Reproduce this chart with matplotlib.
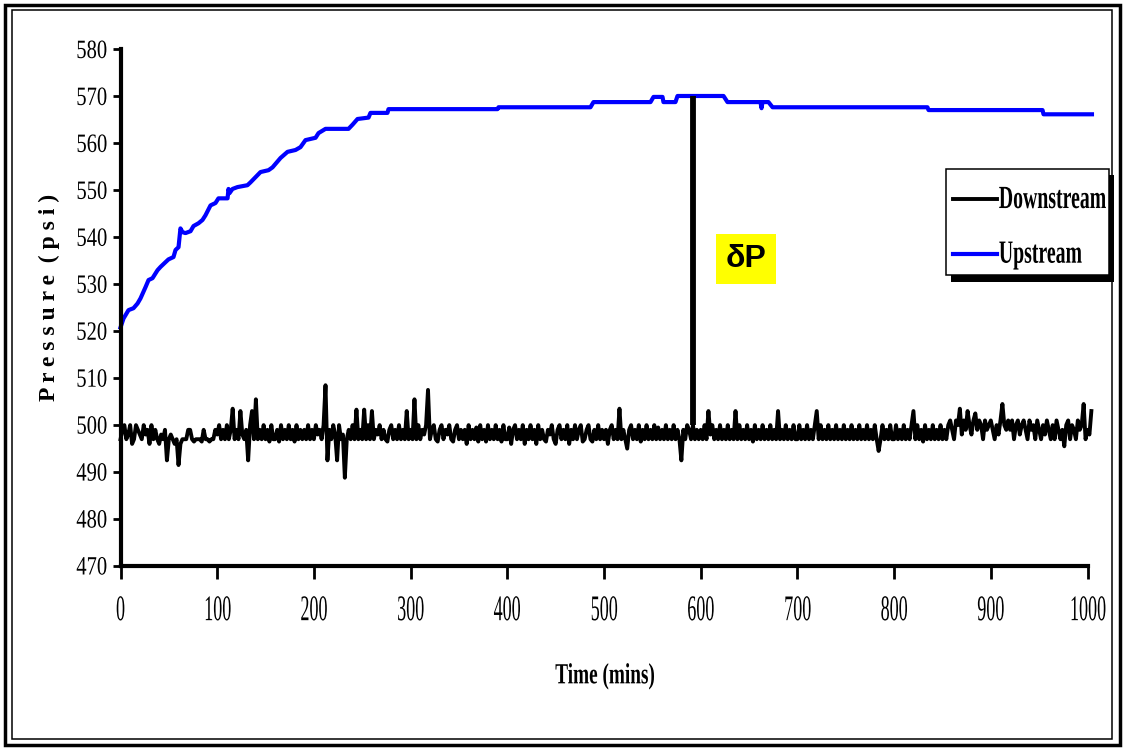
import matplotlib
matplotlib.use("Agg")
import matplotlib.pyplot as plt
import matplotlib.patheffects as pe
from matplotlib.patches import Rectangle
from matplotlib.transforms import Affine2D
import numpy as np

W, H = 1124, 748

# upstream pressure (time in mins, psi)
up_time = [0, 3.1, 8.3, 13.4, 17.6, 20.7, 25.9, 29.0, 33.1, 38.3, 41.4, 46.5, 49.6,
           54.8, 56.9, 60.0, 62.0, 64.1, 67.2, 72.4, 75.5, 80.7, 84.8, 87.9, 93.1,
           98.2, 101.3, 110.7, 111.7, 112.7, 115.8, 121.0, 131.3, 134.4, 144.8, 153.1,
           157.2, 165.5, 172.7, 181.0, 186.1, 191.3, 201.7, 204.8, 212.0, 235.8, 240.0,
           245.1, 256.5, 258.5, 276.1, 277.1, 389.9, 390.9, 486.0, 489.1, 548.1, 551.2,
           560.5, 561.5, 573.9, 576.0, 623.6, 627.7, 661.8, 662.9, 663.9, 670.1, 674.3,
           834.5, 835.6, 953.5, 954.5, 1004.6]
up_psi = [520.8, 522.7, 524.5, 524.9, 525.9, 527.0, 529.4, 530.9, 531.3, 533.0, 533.7,
          534.7, 535.3, 535.8, 537.3, 537.9, 541.9, 541.1, 540.9, 541.3, 542.4, 543.0,
          543.7, 544.7, 546.8, 547.3, 548.3, 548.3, 550.3, 549.4, 550.3, 550.7, 551.1,
          551.7, 553.9, 554.3, 554.9, 556.9, 558.2, 558.6, 559.2, 560.7, 561.2, 562.2,
          563.1, 563.1, 564.0, 565.2, 565.5, 566.5, 566.5, 567.3, 567.3, 567.7, 567.7,
          568.8, 568.8, 569.9, 569.9, 568.8, 568.8, 570.1, 570.1, 568.8, 568.8, 567.5,
          568.8, 568.8, 567.7, 567.7, 567.1, 567.1, 566.2, 566.2]

# downstream pressure, one reading every 2 mins (one row = 100 mins)
down_time = np.arange(0, 1005, 2)
down_psi = [
    497, 499, 500, 497, 498, 500, 496, 497, 500, 499, 498, 497, 500, 498, 499, 496, 500, 497, 499, 497,
    496, 498, 497, 499, 492.5, 497, 498, 497, 496, 497, 491.5, 496, 497, 497, 497, 499, 499, 497, 496.5, 497,
    497, 497, 496.5, 499, 497, 497, 496.5, 497, 497, 499,
    498, 500, 497, 499, 497, 500, 497, 499, 503.5, 497, 499, 497, 503, 498, 497, 499, 492.5, 500, 503, 497,
    505.5, 497, 499, 497, 500, 497, 499, 496.5, 500, 497, 497, 499, 496.5, 500, 497, 499, 497, 500, 497, 499,
    496.5, 500, 497, 499, 497, 499, 497, 500, 497, 499,
    497, 500, 498, 499, 497, 500, 508.5, 492.5, 499, 497, 500, 498, 492.5, 500, 497, 498, 488.8, 497, 499, 497,
    500, 497, 503.3, 497, 499, 497, 503.3, 497, 500, 497, 503, 497, 499, 498, 500, 497, 499, 497, 496.5, 499,
    500, 497, 499, 497, 500, 497, 499, 497, 503, 497,
    499, 497, 505.5, 497, 500, 497, 499, 498, 500, 507.5, 497, 499, 500, 497, 496.5, 499, 500, 497, 499, 498,
    500, 497, 496.5, 499, 500, 497, 499, 497, 499, 496, 500, 497, 499, 497, 499.5, 496.5, 500, 497, 499, 496.5,
    500, 497, 499, 497, 500, 497, 499, 496.5, 500, 497,
    497, 499.5, 496, 499, 500, 497, 499, 497, 500, 496, 499, 497, 500, 497, 499, 496, 500, 497, 499, 497,
    496.5, 499, 498, 500, 497, 496, 499, 500, 497, 499, 497, 500, 496, 499, 497, 500, 497, 499, 500, 496.5,
    497, 499, 500, 497, 496.5, 499, 497, 500, 497, 499,
    497, 499, 496, 499, 500, 497, 499, 497, 503.5, 497, 499, 497, 495, 499, 500, 497, 499, 497, 500, 496.5,
    499, 497, 500, 497, 499, 497, 500, 497, 499.5, 497, 499, 497, 500, 497, 499, 497, 500, 497, 499, 497,
    492.5, 499, 497, 500, 499, 497, 500, 497, 499, 497,
    499, 497, 500, 497, 503, 498, 500, 497, 499, 497, 500, 497, 499, 497, 500, 497, 499, 497, 503, 497,
    500, 497, 499, 497, 500, 497, 499, 496.5, 500, 497, 499, 497, 500, 497, 499, 497, 500, 497, 499, 497,
    503, 497, 499, 497, 500, 497, 499, 497, 500, 497,
    497, 500, 497, 499, 497, 500, 497, 499, 497, 500, 503, 497, 500, 497, 499, 497, 500, 497, 499, 497,
    500, 497, 499, 497, 500, 497, 499, 497, 500, 497, 499, 497, 500, 497, 499, 497, 500, 497, 499, 497,
    500, 497, 494.5, 497, 500, 497, 499, 497, 500, 497,
    497, 500, 497, 499, 497, 500, 497, 499, 497, 500, 503, 497, 500, 497, 499, 496.5, 500, 497, 499, 497,
    500, 497, 499, 497, 500, 497, 499, 497, 500, 501, 499, 497, 501, 500, 503.5, 498, 501, 499, 503, 500,
    498, 501, 502.5, 499, 501, 500, 497, 501, 499, 500,
    501, 499, 497, 500, 498, 501, 504.5, 500, 499, 501, 499, 501, 497, 500, 501, 498, 500, 501, 499, 497,
    501, 499, 500, 497, 501, 499, 497, 500, 498, 501, 499, 497, 500, 497, 501, 499, 497, 499, 495.5, 500,
    501, 497, 500, 499, 497, 501, 499, 500, 504.5, 497, 499, 498, 503,
]

# the pressure drop marker
dp_time = 592.5
dp_low, dp_high = 500, 570

x_ticks = [0, 100, 200, 300, 400, 500, 600, 700, 800, 900, 1000]
y_ticks = [470, 480, 490, 500, 510, 520, 530, 540, 550, 560, 570, 580]


class Squash(pe.AbstractPathEffect):
    """stretch text glyphs, to get the tall condensed Times of the original"""
    def __init__(self, sx=0.7, sy=1.0, anchor="center"):
        super().__init__()
        self.sx = sx
        self.sy = sy
        self.anchor = anchor

    def draw_path(self, renderer, gc, tpath, affine, rgbFace=None):
        ext = tpath.get_extents()
        cx = {"left": 0, "center": (ext.x0 + ext.x1) / 2, "right": ext.x1}[self.anchor]
        squeeze = Affine2D().translate(-cx, 0).scale(self.sx, self.sy).translate(cx, 0)
        renderer.draw_path(gc, tpath, squeeze + affine, rgbFace)


def px_box(x0, y0, x1, y1, **kw):
    return Rectangle((x0 / W, 1 - y1 / H), (x1 - x0) / W, (y1 - y0) / H,
                     transform=fig.transFigure, **kw)


plt.rcParams['font.family'] = ['Liberation Serif', 'DejaVu Serif']

fig = plt.figure(figsize=(W / 100, H / 100), dpi=100)
ax = fig.add_axes([120.5 / W, 1 - 566 / H, 967 / W, 516.5 / H])

down_line, = ax.plot(down_time, down_psi, color='k', lw=2.8, clip_on=False, label='Downstream')
up_line, = ax.plot(up_time, up_psi, color='#0000FF', lw=3.0, clip_on=False, label='Upstream')
ax.plot([dp_time, dp_time], [dp_low, dp_high], color='k', lw=4.2, solid_capstyle='butt')

ax.text(647, 535.4, "δP", ha='center', va='center', fontsize=23, weight='bold',
        family='Liberation Sans',
        bbox=dict(boxstyle='square,pad=0.3', fc='#FFFF00', ec='none'))

ax.set_xlim(0, 1000)
ax.set_ylim(470, 580)
ax.set_xticks(x_ticks)
ax.set_yticks(y_ticks)
for side in ['top', 'right']:
    ax.spines[side].set_visible(False)
for side in ['left', 'bottom']:
    ax.spines[side].set_linewidth(3)
ax.tick_params(axis='x', direction='out', length=9, width=2, pad=12, labelsize=26)
ax.tick_params(axis='y', direction='out', length=6, width=2, pad=3.5, labelsize=19)
for lab in ax.get_xticklabels():
    lab.set_path_effects([Squash(0.5, 1.0, "center")])
for lab in ax.get_yticklabels():
    lab.set_path_effects([Squash(0.78, 1.0, "right")])

ax.set_xlabel("Time (mins)", fontsize=21, weight='bold', va='center',
              path_effects=[Squash(0.66, 1.0, "center")])
ax.xaxis.set_label_coords((605 - 120.5) / 967, -(676 - 566) / 516.5)
ax.set_ylabel("P r e s s u r e  ( p s i )", fontsize=17, weight='bold', va='center')
ax.yaxis.set_label_coords((49 - 120.5) / 967, (566 - 297) / 516.5)

# legend box with its hard shadow
fig.add_artist(px_box(951, 175, 1114, 282, fc='k', ec='none', zorder=3))
fig.add_artist(px_box(946, 169, 1109, 275, fc='white', ec='k', lw=1.1, zorder=4))
leg = fig.legend(handles=[down_line, up_line], loc='upper left',
                 bbox_to_anchor=(953 / W, 1 - 190 / H), frameon=False, fontsize=15,
                 handlelength=2.1, handleheight=1.25, handletextpad=0.1, borderpad=0,
                 borderaxespad=0, labelspacing=1.52)
leg.set_zorder(5)
for t in leg.get_texts():
    t.set_weight('bold')
    t.set_path_effects([Squash(0.95, 1.55, "left")])

# double frame round the whole chart
fig.add_artist(px_box(4.5, 4.5, 1120, 744.5, fill=False, ec='k', lw=2.5, zorder=6))
fig.add_artist(px_box(11.8, 10, 1111.5, 739, fill=False, ec='k', lw=1.1, zorder=6))

fig.savefig("out.png", dpi=100, facecolor='white')
